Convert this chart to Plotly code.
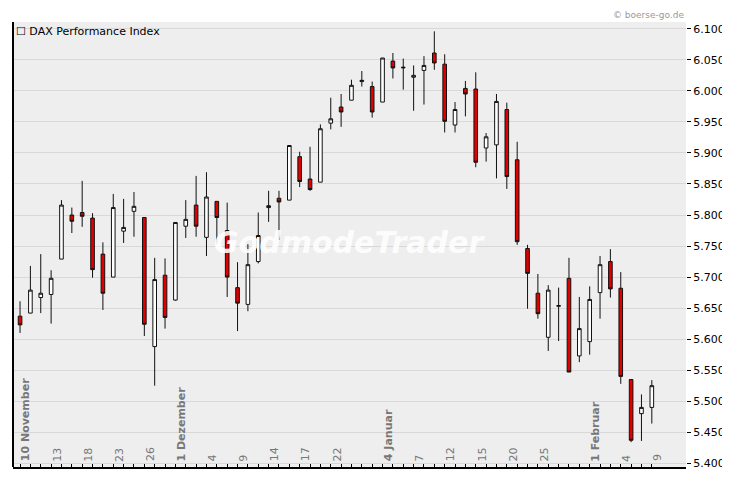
import plotly.graph_objects as go

# DAX daily candles, 10 Nov 2009 .. 9 Feb 2010 (trading-day index 0..61)
opens = [5637, 5642, 5667, 5672, 5729, 5800, 5804, 5795, 5737, 5700, 5774, 5806, 5796,
         5588, 5703, 5663, 5782, 5816, 5764, 5822, 5775, 5683, 5656, 5725, 5812, 5827,
         5824, 5894, 5858, 5853, 5948, 5974, 5985, 6015, 6007, 5982, 6048, 6037, 6022,
         6033, 6061, 6043, 5945, 6004, 6003, 5908, 5913, 5970, 5889, 5746, 5674, 5603,
         5653, 5698, 5573, 5596, 5675, 5725, 5682, 5535, 5480, 5490]
highs = [5661, 5718, 5737, 5711, 5824, 5812, 5855, 5803, 5756, 5834, 5826, 5837, 5796,
         5731, 5730, 5788, 5824, 5863, 5869, 5822, 5820, 5724, 5753, 5804, 5839, 5839,
         5912, 5902, 5910, 5946, 5989, 5995, 6018, 6032, 6015, 6053, 6061, 6052, 6041,
         6056, 6096, 6059, 5982, 6016, 6030, 5932, 5995, 5981, 5918, 5752, 5705, 5687,
         5683, 5731, 5668, 5685, 5734, 5745, 5708, 5535, 5511, 5534]
lows = [5610, 5642, 5642, 5625, 5729, 5771, 5781, 5699, 5647, 5700, 5755, 5765, 5605,
        5525, 5617, 5662, 5763, 5765, 5734, 5754, 5668, 5613, 5645, 5722, 5789, 5760,
        5824, 5845, 5839, 5853, 5938, 5942, 5985, 6007, 5957, 5982, 6020, 6002, 5968,
        5978, 6034, 5933, 5933, 5959, 5877, 5886, 5859, 5842, 5752, 5649, 5633, 5581,
        5597, 5547, 5563, 5575, 5633, 5667, 5528, 5434, 5436, 5464]
closes = [5623, 5679, 5674, 5698, 5816, 5790, 5798, 5712, 5674, 5812, 5780, 5814, 5624,
          5696, 5635, 5788, 5793, 5782, 5829, 5796, 5700, 5658, 5720, 5767, 5815, 5821,
          5912, 5854, 5841, 5939, 5955, 5966, 6009, 6017, 5966, 6053, 6037, 6038, 6025,
          6041, 6045, 5951, 5970, 5995, 5885, 5926, 5983, 5862, 5757, 5706, 5641, 5679,
          5654, 5547, 5617, 5664, 5720, 5681, 5540, 5437, 5490, 5525]

date_ticks = [0, 3, 6, 9, 12, 15, 18, 21, 24, 27, 30, 35, 38, 41, 44, 47, 50, 55, 58, 61]
date_labels = ["10 November", "13", "18", "23", "26", "1 Dezember", "4", "9", "14", "17",
               "22", "4 Januar", "7", "12", "15", "20", "25", "1 Februar", "4", "9"]
bold_labels = {"10 November", "1 Dezember", "4 Januar", "1 Februar"}

y_ticks = list(range(5400, 6101, 50))
y_labels = [f"{v // 1000}.{v % 1000:03d}" for v in y_ticks]

x = list(range(len(opens)))

fig = go.Figure()
fig.add_trace(go.Candlestick(
    x=x, open=opens, high=highs, low=lows, close=closes,
    increasing=dict(line=dict(color="#111111", width=1), fillcolor="white"),
    decreasing=dict(line=dict(color="#111111", width=1), fillcolor="#e00000"),
    whiskerwidth=0, showlegend=False, hoverinfo="skip",
))

# watermark
fig.add_annotation(x=0.5, y=0.505, xref="paper", yref="paper", text="<b><i>GodmodeTrader</i></b>",
                   showarrow=False, font=dict(family="DejaVu Sans", size=30, color="rgba(255,255,255,0.9)"))

# rotated date labels along the bottom
for t, lab in zip(date_ticks, date_labels):
    fig.add_annotation(x=t + 0.6, y=0.008, xref="x", yref="paper", text=f"<b>{lab}</b>" if lab in bold_labels else lab,
                       textangle=-90, showarrow=False, xanchor="center", yanchor="bottom",
                       font=dict(family="DejaVu Sans", size=11, color="#777777"))

fig.add_annotation(x=0.0, y=1.0, xref="paper", yref="paper", text="☐ DAX Performance Index",
                   showarrow=False, xanchor="left", yanchor="top", xshift=1, yshift=-1,
                   font=dict(family="DejaVu Sans", size=11, color="#000000"))
fig.add_annotation(x=1.0, y=1.0, xref="paper", yref="paper", text="© boerse-go.de",
                   showarrow=False, xanchor="right", yanchor="bottom", xshift=0, yshift=0,
                   font=dict(family="DejaVu Sans", size=9, color="#999999"))

# page body has an 8px margin, so shift the plot area up/left to compensate
fig.update_layout(
    width=730, height=481,
    margin=dict(l=5, r=52, t=14, b=22, autoexpand=False),
    boxgap=0.5,
    paper_bgcolor="white", plot_bgcolor="#eeeeee",
    xaxis=dict(range=[-0.68, 64.3], rangeslider=dict(visible=False), showgrid=False,
               tickvals=x, ticks="inside", ticklen=3, tickcolor="black", showticklabels=False,
               showline=True, linecolor="black", linewidth=2, zeroline=False),
    yaxis=dict(range=[5394, 6111], side="right", tickvals=y_ticks, ticktext=y_labels,
               gridcolor="#d8d8d8", ticks="outside", ticklen=4, tickcolor="black",
               tickfont=dict(family="DejaVu Sans", size=11, color="black"),
               showline=False, zeroline=False),
)
fig.add_shape(type="line", xref="paper", yref="paper", x0=0, x1=0, y0=0, y1=1,
              line=dict(color="black", width=2))

fig.write_html("out.html")
